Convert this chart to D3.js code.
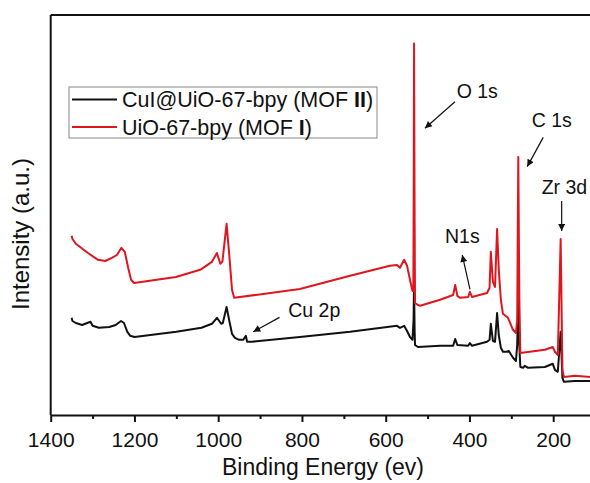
<!DOCTYPE html>
<html lang="en">
<head>
<meta charset="UTF-8">
<title>XPS survey</title>
<style>
  body { margin: 0; background: #fff; }
  svg { display: block; }
  text { font-family: "Liberation Sans", Arial, sans-serif; fill: #111; }
</style>
</head>
<body>
<svg width="590" height="483"></svg>
<script src="https://d3js.org/d3.v7.min.js"></script>
<script>
// --- data: binding energy (eV) and intensity (a.u.) ---
const energyII = [1350, 1348, 1340, 1325, 1305, 1300, 1285, 1260, 1245, 1232, 1225, 1217, 1210, 1200,
  1100, 1040, 1015, 1003, 993, 989, 980, 973, 967, 960, 950, 940, 934, 931, 920, 805, 685,
  573, 566, 556, 549, 542, 536, 533.5, 532.3, 531, 530, 523, 470, 439, 434, 429, 403, 399, 394,
  358, 352, 349, 344, 339, 334, 330, 325, 320, 311, 306, 296, 289, 286, 283.4, 281, 278.5,
  272, 268, 260, 220, 201, 196, 189, 182.2, 178, 174.5, 148, 112];
const intensityII = [24.3, 23.5, 23, 22.5, 23.3, 22.3, 21.8, 22, 22.5, 23.5, 23, 20.8, 19.8, 19.5,
  20.8, 21.8, 22.8, 24.3, 22.8, 23, 27, 23.3, 20.3, 19.3, 18.8, 18.8, 19.8, 18.3, 18.3, 19.5, 20.8,
  22.3, 21.8, 22.3, 21, 19.5, 18.8, 23.8, 33, 21.3, 17.5, 17, 17.3, 17.3, 19, 17.5, 17.3, 18, 17.3,
  18.3, 18.8, 22.8, 18.5, 18.3, 25.5, 20, 16.8, 15.8, 15.8, 16, 14.3, 13.5, 17.5, 28.8, 17.5, 12,
  11.8, 12.3, 11.8, 12, 12.8, 11.3, 10.8, 20.8, 9.3, 8.3, 8.5, 8.5];

const energyI = [1350, 1348, 1340, 1311, 1287, 1270, 1254, 1242, 1231, 1223, 1215, 1208, 1201,
  1101, 1043, 1015, 1003, 995, 990, 980, 973, 967, 962, 805, 685, 590, 573, 566, 556, 549, 542,
  536, 534, 533, 532.3, 531, 530, 523, 518, 470, 439, 434, 429, 422, 403, 399, 394, 358, 352, 349,
  344, 339, 334, 330, 325, 320, 308, 296, 289, 286, 283.4, 281, 278.5, 256, 220, 201, 196, 189,
  182.2, 178, 174.5, 148, 112];
const intensityI = [44.8, 44, 42.8, 40.5, 38.8, 38.5, 39.3, 40, 41.8, 40.8, 36.8, 33.8, 33,
  34.5, 36.3, 38.3, 40.5, 37.8, 38.3, 47.8, 39.3, 31.3, 29.3, 31.5, 34.8, 37.3, 37.5, 36.8, 38.8, 37.3, 33.8,
  31, 31, 60, 92.9, 50, 28, 27.5, 27.3, 28.8, 30, 32.5, 29.8, 29.3, 29.5, 30.8, 29.5, 30.5, 31.8, 40.8,
  33.3, 32, 46.5, 36.3, 28.8, 25.3, 24.3, 21.3, 20.5, 23.8, 64.5, 30, 15.5, 15.8, 16.3, 17, 15.8, 15,
  44, 11.3, 9.5, 9.8, 9.5];

const majorTicks = [1400, 1200, 1000, 800, 600, 400, 200];
const minorTicks = [1300, 1100, 900, 700, 500, 300];

const legendNames = ["CuI@UiO-67-bpy (MOF ", "UiO-67-bpy (MOF "];
const legendBold = ["II", "I"];
const seriesColors = ["#111111", "#e0161f"];

// peak labels: text anchor and arrow from/to, in (eV, intensity)
const notes = [
  { label: "O 1s",  tx: 430.6, ty: 79.2, from: [434.6, 78.3], to: [506.3, 71.7] },
  { label: "C 1s",  tx: 251.5, ty: 72.1, from: [223.8, 69.4], to: [262, 62.1] },
  { label: "Zr 3d", tx: 227.6, ty: 55.2, from: [179.8, 53.5], to: [179.8, 46] },
  { label: "N1s",   tx: 458.5, ty: 42.9, from: [398.8, 31.4], to: [417.2, 40] },
  { label: "Cu 2p", tx: 832.7, ty: 24.6, from: [853.5, 24.4], to: [916.2, 20.8] }
];

const svg = d3.select("svg");
const mLeft = 50.7, mRight = 590.9, mTop = 15, mBottom = 415;

const x = d3.scaleLinear().domain([1400, 110]).range([mLeft, mRight]);
const y = d3.scaleLinear().domain([0, 100]).range([mBottom, mTop]);

svg.append("defs").append("marker")
  .attr("id", "arrow")
  .attr("viewBox", "0 0 10 10")
  .attr("refX", 10).attr("refY", 5)
  .attr("markerWidth", 9).attr("markerHeight", 7)
  .attr("markerUnits", "userSpaceOnUse")
  .attr("orient", "auto")
  .append("path").attr("d", "M0,0L10,5L0,10z").attr("fill", "#111");

// frame (top and left lines)
svg.append("line").attr("x1", mLeft).attr("x2", mRight).attr("y1", mTop).attr("y2", mTop)
  .attr("stroke", "#111").attr("stroke-width", 2);
svg.append("line").attr("x1", mLeft).attr("x2", mLeft).attr("y1", mTop).attr("y2", mBottom)
  .attr("stroke", "#111").attr("stroke-width", 2);

// x axis
const gx = svg.append("g").attr("transform", `translate(0,${mBottom})`)
  .call(d3.axisBottom(x).tickValues(majorTicks).tickSize(7).tickSizeOuter(0).tickPadding(10)
    .tickFormat(d3.format("d")));
gx.select(".domain").attr("stroke", "#111").attr("stroke-width", 2);
gx.selectAll(".tick line").attr("stroke", "#111").attr("stroke-width", 2);
gx.selectAll(".tick text").style("font-family", "Liberation Sans, Arial, sans-serif")
  .style("font-size", "21px").attr("fill", "#111");

const gm = svg.append("g").attr("transform", `translate(0,${mBottom})`)
  .call(d3.axisBottom(x).tickValues(minorTicks).tickSize(4).tickSizeOuter(0).tickFormat(""));
gm.select(".domain").remove();
gm.selectAll(".tick line").attr("stroke", "#111").attr("stroke-width", 2);

svg.append("text").attr("x", 323).attr("y", 475).attr("text-anchor", "middle")
  .style("font-size", "23px").text("Binding Energy (ev)");
svg.append("text").attr("transform", "translate(29,234) rotate(-90)").attr("text-anchor", "middle")
  .style("font-size", "24px").text("Intensity (a.u.)");

// spectra
const line = d3.line().x(d => x(d[0])).y(d => y(d[1]));
const series = [d3.zip(energyII, intensityII), d3.zip(energyI, intensityI)];
svg.selectAll(".spec").data(series).join("path")
  .attr("class", "spec")
  .attr("d", line)
  .attr("fill", "none")
  .attr("stroke", (d, i) => seriesColors[i])
  .attr("stroke-width", 2)
  .attr("stroke-linejoin", "round");

// annotations
notes.forEach(n => {
  svg.append("line")
    .attr("x1", x(n.from[0])).attr("y1", y(n.from[1]))
    .attr("x2", x(n.to[0])).attr("y2", y(n.to[1]))
    .attr("stroke", "#111").attr("stroke-width", 1.2)
    .attr("marker-end", "url(#arrow)");
  svg.append("text").attr("x", x(n.tx)).attr("y", y(n.ty))
    .style("font-size", "19.5px").text(n.label);
});

// legend
const lg = svg.append("g");
lg.append("rect").attr("x", 69).attr("y", 87).attr("width", 308).attr("height", 51)
  .attr("fill", "#fff").attr("stroke", "#888").attr("stroke-width", 1);
legendNames.forEach((name, i) => {
  const cy = 99.5 + i * 27.5;
  lg.append("line").attr("x1", 72).attr("x2", 117).attr("y1", cy).attr("y2", cy)
    .attr("stroke", seriesColors[i]).attr("stroke-width", 2);
  const t = lg.append("text").attr("x", 122).attr("y", cy + 7.5).style("font-size", "21.5px");
  t.append("tspan").text(name);
  t.append("tspan").style("font-weight", "bold").text(legendBold[i]);
  t.append("tspan").text(")");
});
</script>
</body>
</html>
